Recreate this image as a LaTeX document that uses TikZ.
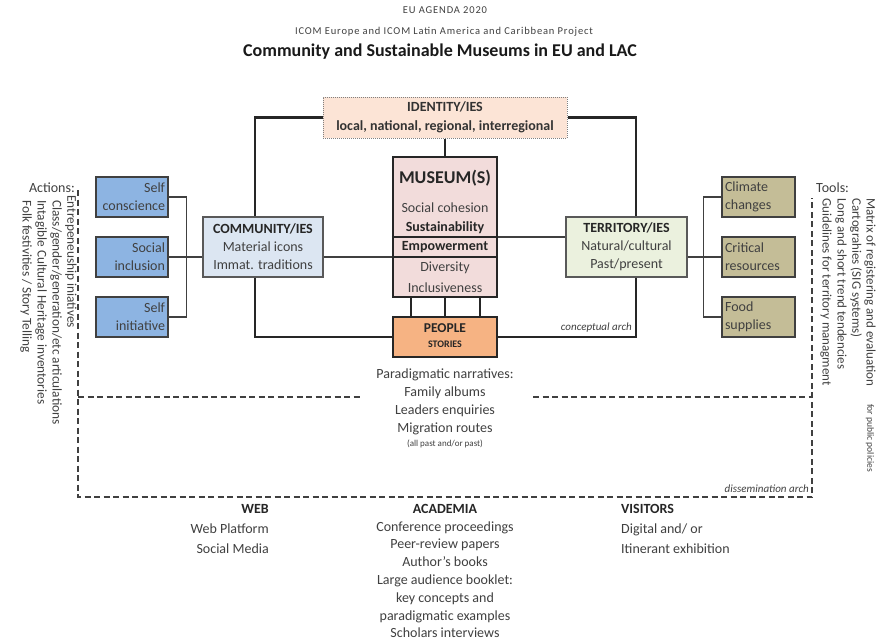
\documentclass[tikz,border=0pt]{standalone}
\usepackage{fontspec}
\setmainfont{Carlito}
\newfontfamily\spaced[LetterSpace=8]{Carlito}
\usetikzlibrary{calc}
\definecolor{txt}{HTML}{404040}
\definecolor{idfill}{HTML}{FCE4D6}
\definecolor{musfill}{HTML}{F2DCDB}
\definecolor{pplfill}{HTML}{F6B383}
\definecolor{comfill}{HTML}{DCE6F2}
\definecolor{terfill}{HTML}{EBF1DE}
\definecolor{lblue}{HTML}{8DB4E2}
\definecolor{rolive}{HTML}{C4BD97}
\newcommand\setfs[2]{\fontsize{#1}{#2}\selectfont}
\tikzset{
  arch/.style={line width=2.5pt, draw=black!85},
  thinline/.style={line width=1.2pt, draw=txt},
  diss/.style={line width=1.8pt, draw=txt, dash pattern=on 6pt off 3.5pt},
  bigbox/.style={draw=black!85, line width=2.5pt, inner sep=0pt},
  midbox/.style={draw=gray!70!black, line width=1.3pt, inner sep=0pt, align=center,
     font=\setfs{14}{18}, text=txt, minimum width=120pt, minimum height=60pt},
  smallL/.style={draw=black!75, line width=1.3pt, fill=lblue, minimum height=40pt,
     text width=66pt, inner xsep=3pt, inner ysep=0pt, align=right, font=\setfs{14}{18}, text=txt},
  smallR/.style={draw=black!75, line width=1.3pt, fill=rolive, minimum height=40pt,
     text width=67pt, inner xsep=3pt, inner ysep=0pt, align=left, font=\setfs{14}{18}, text=txt},
  plain/.style={inner sep=0pt, text=txt, font=\setfs{14}{18}},
  rot/.style={rotate=-90, anchor=west, inner sep=0pt, text=txt, font=\setfs{13.3}{15}},
  rotr/.style={rotate=-90, anchor=west, inner sep=0pt, text=txt, font=\setfs{13}{15}},
}
\begin{document}
\begin{tikzpicture}[x=1pt,y=-1pt]
\useasboundingbox (0,0) rectangle (879,643);
\fill[white] (0,0) rectangle (879,643);

% titles
\node[plain, font=\spaced\setfs{10.5}{12}] (t1) at (445,10) {EU AGENDA 2020};
\node[plain, font=\spaced\setfs{10.5}{12}] (t2) at (444,32) {ICOM Europe and ICOM Latin America and Caribbean Project};
\node[plain, text=black!90, font=\bfseries\setfs{18}{20}] (t3) at (440,52) {Community and Sustainable Museums in EU and LAC};

% main boxes
\node[draw=gray, densely dotted, line width=1pt, fill=idfill, minimum width=244pt, minimum height=41pt,
      inner sep=0pt, align=center, font=\bfseries\setfs{14}{19}, text=black!80] (identity) at (445,117.5)
      {IDENTITY/IES\\local, national, regional, interregional};
\node[bigbox, fill=musfill, minimum width=104pt, minimum height=140pt] (museum) at (445,227) {};
\node[bigbox, line width=2pt, fill=pplfill, minimum width=104pt, minimum height=40pt] (people) at (445,337) {};
\node[midbox, fill=comfill] (community) at (263,247)
      {\textbf{\color{black!85}COMMUNITY/IES}\\Material icons\\Immat. traditions};
\node[midbox, fill=terfill, minimum width=121pt] (territory) at (626.5,247)
      {\textbf{\color{black!85}TERRITORY/IES}\\Natural/cultural\\Past/present};

% museum contents
\draw[line width=1.5pt, black!85] (museum.west |- 0,237) -- (museum.east |- 0,237);
\draw[line width=1.5pt, black!85] (museum.west |- 0,257) -- (museum.east |- 0,257);
\node[plain, text=black!85, font=\bfseries\setfs{18}{20}] (m1) at (445,178) {MUSEUM(S)};
\node[plain] (m2) at (445,208) {Social cohesion};
\node[plain, text=black!85, font=\bfseries\setfs{14}{18}] (m3) at (445,228) {Sustainability};
\node[plain, text=black!85, font=\bfseries\setfs{14}{18}] (m4) at (445,247) {Empowerment};
\node[plain] (m5) at (445,268) {Diversity};
\node[plain] (m6) at (445,288) {Inclusiveness};

% people contents
\node[plain, text=black!85, font=\bfseries\setfs{13.5}{15}] (p1) at (445,328) {PEOPLE};
\node[plain, text=black!85, font=\bfseries\setfs{10}{12}] (p2) at (445,344) {STORIES};

% small boxes
\node[smallL] (lsc) at (132,197) {Self\\conscience};
\node[smallL] (lsi) at (132,257) {Social\\inclusion};
\node[smallL] (lin) at (132,317) {Self\\initiative};
\node[smallR] (rcc) at (758.5,197) {Climate\\changes};
\node[smallR] (rcr) at (758.5,257) {Critical\\resources};
\node[smallR] (rfs) at (758.5,317) {Food\\supplies};

% conceptual arch
\draw[arch] (identity.west) -| ($(community.north)+(-8,0)$);
\draw[arch] ($(community.south)+(-8,0)$) |- (people.west);
\draw[arch] (identity.east) -| ($(territory.north)+(9.5,0)$);
\draw[arch] ($(territory.south)+(9.5,0)$) |- (people.east);
\draw[arch] (identity.south) -- (museum.north);
\draw[arch] ($(museum.south)+(-34,0)$) -- ($(people.north)+(-34,0)$);
\draw[arch] (museum.south) -- (people.north);
\draw[arch] ($(museum.south)+(35,0)$) -- ($(people.north)+(35,0)$);

% thin connectors
\draw[thinline] (lsc.east) -- ++(18,0) |- (lin.east);
\draw[thinline] (lsi.east) -- (lsi.east -| community.west);
\draw[thinline] ($(community.east)+(0,10)$) -- ($(museum.west)+(0,30)$);
\draw[thinline] ($(museum.east)+(0,10)$) -- ($(territory.west)+(0,-10)$);
\draw[thinline] (rcc.west) -- ++(-18,0) |- (rfs.west);
\draw[thinline] (rcr.west -| territory.east) -- (rcr.west);

\node[plain, anchor=east, font=\itshape\setfs{11}{13}] (carch) at (632,328) {conceptual arch};

% dissemination arch
\coordinate (dtl) at (78,190);
\coordinate (dbl) at (78,497);
\coordinate (dbr) at (812,497);
\coordinate (dtr) at (812,198);
\coordinate (dml) at (78,397);
\coordinate (dmla) at (362,397);
\coordinate (dmrb) at (533,397);
\coordinate (dmr) at (812,397);
\draw[diss] (dtl) -- (dbl) -- (dbr) -- (dtr);
\draw[diss] (dml) -- (dmla);
\draw[diss] (dmrb) -- (dmr);
\node[plain, anchor=east, font=\itshape\setfs{11}{13}] (darch) at (809,489) {dissemination arch};

% narratives
\node[plain, align=center] (narr) at (445,402)
  {Paradigmatic narratives:\\Family albums\\Leaders enquiries\\Migration routes};
\node[plain, font=\setfs{9}{10}] (narr2) at (445,444) {(all past and/or past)};

% actions (left)
\node[plain, anchor=east] (actions) at (75,188) {Actions:};
\node[rot] (a1) at (71,195) {Entrepeneuship iniatives};
\node[rot] (a2) at (56,200) {Class/gender/generation/etc articulations};
\node[rot] (a3) at (41,200) {Intagible Cultural Heritage inventories};
\node[rot] (a4) at (26,200) {Folk festivities / Story Telling};

% tools (right)
\node[plain, anchor=west] (tools) at (816,188) {Tools:};
\node[rotr] (b1) at (870,198) {Matrix of registering and evaluation};
\node[rotr, font=\setfs{9.5}{11}] (b1b) at (870,404) {for public policies};
\node[rotr] (b2) at (856,198) {Cartograhies (SIG systems)};
\node[rotr] (b3) at (841,198) {Long and short trend tendencies};
\node[rotr] (b4) at (826,198) {Guidelines for territory managment};

% bottom
\node[plain, anchor=east, align=right, font=\setfs{14}{20}] (web) at (269,529)
  {\textbf{\color{black!85}WEB}\\Web Platform\\Social Media};
\node[plain, align=center, font=\setfs{14}{17.8}] (acad) at (445,571)
  {\textbf{\color{black!85}ACADEMIA}\\Conference proceedings\\Peer-review papers\\Author's books\\Large audience booklet:\\key concepts and\\paradigmatic examples\\Scholars interviews};
\node[plain, anchor=west, align=left, font=\setfs{14}{20}] (vis) at (621,529)
  {\textbf{\color{black!85}VISITORS}\\Digital and/ or\\Itinerant exhibition};
\end{tikzpicture}
\end{document}
